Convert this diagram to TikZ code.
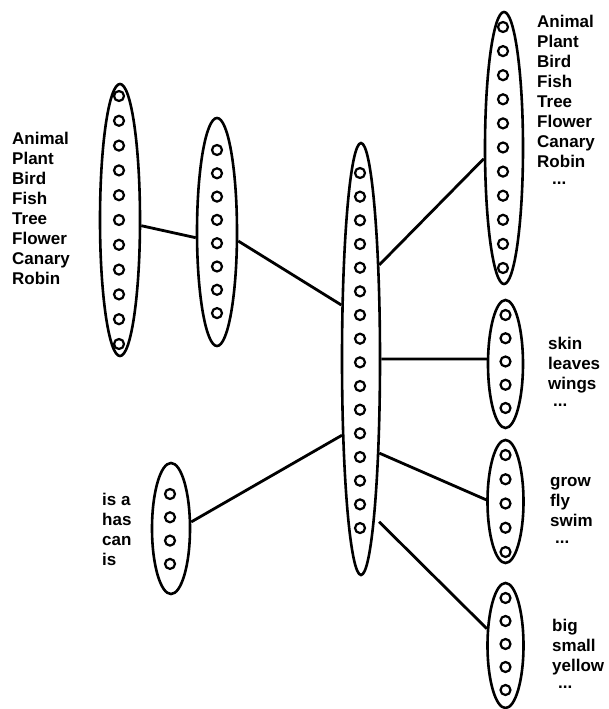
\documentclass[tikz,border=0pt]{standalone}
\usepackage{fontspec}
\setmainfont{Liberation Sans}
\usepackage{tikz}
\usetikzlibrary{shapes.geometric,positioning,calc}
\tikzset{
  net/pool/.style={draw, ellipse, line width=2.6pt, inner sep=0pt, minimum width=38pt},
  net/unit/.style={draw, circle, line width=2.2pt, inner sep=0pt, minimum size=10pt},
  net/line/.style={line width=2.8pt},
  net/words/.style={font=\bfseries\fontsize{17}{20}\selectfont, align=left, inner sep=0pt, anchor=base west}
}

\begin{document}
\begin{tikzpicture}[x=1pt, y=-1pt]
  \useasboundingbox (0,0) rectangle (608,709);
  % pools of units
  \node[net/pool, minimum width=40pt, minimum height=272pt] (item) at (120,220) {};
  \node[net/pool, minimum width=40pt, minimum height=228pt] (rep) at (217,232) {};
  \node[net/pool, minimum height=432pt] (hid) at (361,359) {};
  \node[net/pool, minimum height=131pt] (rel) at (171,528.5) {};
  \node[net/pool, minimum height=272pt] (isaOut) at (504,148) {};
  \node[net/pool, minimum width=35pt, minimum height=128pt] (hasOut) at (505.5,364) {};
  \node[net/pool, minimum width=36pt, minimum height=123pt] (canOut) at (505.5,501.5) {};
  \node[net/pool, minimum width=36pt, minimum height=125pt] (isOut) at (505.5,645.5) {};
  % units
  \foreach \i in {1,...,11} \node[net/unit] (item-\i) at (119,{96+(\i-1)*24.8}) {};
  \foreach \i in {1,...,8} \node[net/unit] (rep-\i) at (217,{150+(\i-1)*23.3}) {};
  \foreach \i in {1,...,16} \node[net/unit] (hid-\i) at (360,{173+(\i-1)*23.67}) {};
  \foreach \i in {1,...,4} \node[net/unit] (rel-\i) at (170,{494+(\i-1)*23.3}) {};
  \foreach \i in {1,...,11} \node[net/unit] (isaOut-\i) at (503,{27+(\i-1)*24.1}) {};
  \foreach \i in {1,...,5} \node[net/unit] (hasOut-\i) at (505.5,{315+(\i-1)*23.25}) {};
  \foreach \i in {1,...,5} \node[net/unit] (canOut-\i) at (505.5,{455+(\i-1)*24.25}) {};
  \foreach \i in {1,...,5} \node[net/unit] (isOut-\i) at (505.5,{598+(\i-1)*23}) {};
  % connections
  \draw[net/line] (item.-15) -- (rep.195);
  \draw[net/line] (rep.-23) -- (hid.110);
  \draw[net/line] (rel.18) -- (hid.256);
  \draw[net/line] (hid.79) -- (isaOut.208);
  \draw[net/line] (hid.east) -- (hasOut.165);
  \draw[net/line] (hid.-79) -- (canOut.175);
  \draw[net/line, shorten <=6pt] (hid.-85.7) -- (isOut.138.5);
  % labels (base = last line)
  \node[net/words] (itemTxt) at (12,284.5) {Animal\\Plant\\Bird\\Fish\\Tree\\Flower\\Canary\\Robin};
  \node[net/words] (relTxt) at (102,565) {is a\\has\\can\\is};
  \node[net/words] (isaTxt) at (537,184.5) {Animal\\Plant\\Bird\\Fish\\Tree\\Flower\\Canary\\Robin\\[-3pt]\hspace*{15pt}...};
  \node[net/words] (hasTxt) at (548,406) {skin\\leaves\\wings\\[-3pt]\hspace*{5pt}...};
  \node[net/words] (canTxt) at (550,543) {grow\\fly\\swim\\[-3pt]\hspace*{5pt}...};
  \node[net/words] (isTxt) at (552,688.5) {big\\small\\yellow\\[-3pt]\hspace*{6pt}...};
\end{tikzpicture}
\end{document}
